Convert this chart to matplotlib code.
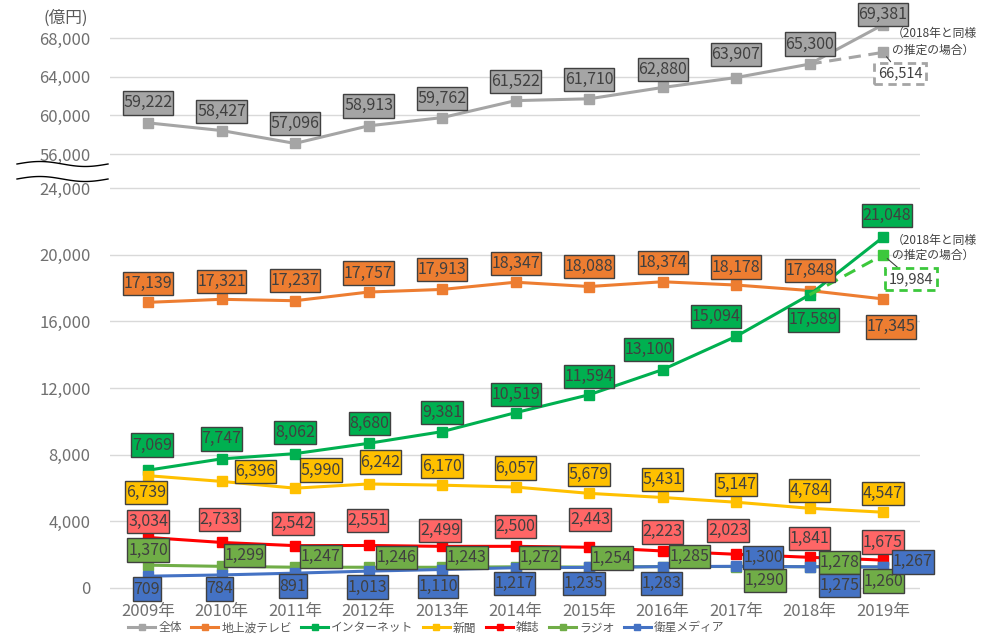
import numpy as np
import matplotlib
matplotlib.use("Agg")
import matplotlib.pyplot as plt
from matplotlib.lines import Line2D
from matplotlib.path import Path
from functools import partial

plt.rcParams['font.family'] = ['Noto Sans CJK JP', 'DejaVu Sans']

# ---------------- data ----------------
years = ['2009年', '2010年', '2011年', '2012年', '2013年', '2014年',
         '2015年', '2016年', '2017年', '2018年', '2019年']
total = [59222, 58427, 57096, 58913, 59762, 61522, 61710, 62880, 63907, 65300, 69381]
terrestrial_tv = [17139, 17321, 17237, 17757, 17913, 18347, 18088, 18374, 18178, 17848, 17345]
internet = [7069, 7747, 8062, 8680, 9381, 10519, 11594, 13100, 15094, 17589, 21048]
newspaper = [6739, 6396, 5990, 6242, 6170, 6057, 5679, 5431, 5147, 4784, 4547]
magazine = [3034, 2733, 2542, 2551, 2499, 2500, 2443, 2223, 2023, 1841, 1675]
radio = [1370, 1299, 1247, 1246, 1243, 1272, 1254, 1285, 1290, 1278, 1260]
satellite = [709, 784, 891, 1013, 1110, 1217, 1235, 1283, 1300, 1275, 1267]
total_est_2019 = 66514
internet_est_2019 = 19984
series_names = ['全体', '地上波テレビ', 'インターネット', '新聞', '雑誌', 'ラジオ', '衛星メディア']
est_note = ['（2018年と同様', 'の推定の場合）']
yticks_low = [0, 4000, 8000, 12000, 16000, 20000, 24000]
yticks_high = [56000, 60000, 64000, 68000]
unit_label = '(億円)'

# ---------------- styles ----------------
colors = ['#A5A5A5', '#ED7D31', '#00B050', '#FFC000', '#FF0000', '#70AD47', '#4472C4']
label_fills = ['#A5A5A5', '#ED7D31', '#00B050', '#FFC000', '#FF6666', '#70AD47', '#4472C4']
est_green = '#3CC83C'

# label offsets (pixels; +x right, +y down as measured on screen)
offsets = [
    [(0, -20), (0, -19), (0, -20), (0, -20), (0, -19), (0, -19), (0, -19), (0, -18), (0, -23), (0, -20), (0, -10)],
    [(0, -19), (0, -18), (0, -20), (0, -19), (0, -20), (0, -19), (0, -20), (0, -19), (0, -18), (0, -20), (8, 28)],
    [(4, -25), (0, -20), (0, -21), (1, -20), (0, -19), (0, -18), (0, -18), (-14, -20), (-20, -20), (4, 25), (4, -22)],
    [(-2, 17), (34, -10), (26, -18), (12, -22), (0, -19), (0, -19), (0, -19), (0, -18), (0, -18), (0, -18), (0, -19)],
    [(0, -16), (-2, -23), (-2, -22), (-1, -25), (-2, -16), (0, -20), (1, -28), (0, -19), (-8, -24), (0, -19), (0, -18)],
    [(0, -15), (23, -11), (26, -11), (28, -10), (25, -10), (24, -9), (23, -9), (27, -10), (29, 14), (30, -4), (0, 14)],
    [(-1, 13), (-2, 14), (-2, 13), (-1, 16), (-4, 17), (-1, 16), (-5, 16), (-1, 17), (27, -9), (30, 19), (30, -5)],
]


def rect_box(x0, y0, width, height, mutation_size, padx=0.05, pady=0.2):
    px = padx * mutation_size
    py = pady * mutation_size
    verts = [(x0 - px, y0 - py), (x0 + width + px, y0 - py),
             (x0 + width + px, y0 + height + py), (x0 - px, y0 + height + py),
             (x0 - px, y0 - py)]
    return Path(verts, [Path.MOVETO, Path.LINETO, Path.LINETO, Path.LINETO, Path.CLOSEPOLY])


# ---------------- broken-axis scale ----------------
def fwd(v):
    v = np.asarray(v, dtype=float)
    return np.where(v <= 24000, v / 60.0,
                    np.where(v >= 56000, 434 + (v - 56000) * 116.0 / 12000.0,
                             400 + (v - 24000) * 34.0 / 32000.0))


def inv(f):
    f = np.asarray(f, dtype=float)
    return np.where(f <= 400, f * 60.0,
                    np.where(f >= 434, 56000 + (f - 434) * 12000.0 / 116.0,
                             24000 + (f - 400) * 32000.0 / 34.0))


W, H = 982, 635
fig = plt.figure(figsize=(W / 100, H / 100), dpi=100)
top_px, bot_px = 5, 598
ax = fig.add_axes([110 / W, (H - bot_px) / H, 810 / W, (bot_px - top_px) / H])
ax.set_yscale('function', functions=(fwd, inv))
ax.set_ylim(float(inv(588 - bot_px)), float(inv(588 - top_px)))
x = np.arange(len(years))
ax.set_xlim(-0.517, 10.503)

ax.set_yticks(yticks_low + yticks_high)
ax.set_yticklabels([f'{t:,}' for t in yticks_low + yticks_high])
ax.set_xticks(x)
ax.set_xticklabels(years)
ax.tick_params(axis='both', length=0, labelsize=12, labelcolor='#707070')
ax.tick_params(axis='y', pad=14)
ax.tick_params(axis='x', pad=3.5)
ax.grid(axis='y', color='#D9D9D9', lw=1)
ax.set_axisbelow(True)
for s in ax.spines.values():
    s.set_visible(False)

all_series = [total, terrestrial_tv, internet, newspaper, magazine, radio, satellite]
handles = []
for i, (vals, c) in enumerate(zip(all_series, colors)):
    ax.plot(x, vals, color=c, lw=2.2, marker='s', ms=7, zorder=3 + i)
    handles.append(Line2D([], [], color=c, lw=2.2, marker='s', ms=5))

# estimate dashed lines
ax.plot([x[-2], x[-1]], [total[-2], total_est_2019], color=colors[0], lw=2.2, ls=(0, (4, 2.5)), zorder=3)
ax.plot([x[-1]], [total_est_2019], color=colors[0], marker='s', ms=7, zorder=3)
ax.plot([x[-2], x[-1]], [internet[-2], internet_est_2019], color=est_green, lw=2.2, ls=(0, (4, 2.5)), zorder=5)
ax.plot([x[-1]], [internet_est_2019], color=est_green, marker='s', ms=7, zorder=5)

box_style = partial(rect_box, padx=0.04, pady=0.2)

# data labels
for vals, fill, offs in zip(all_series, label_fills, offsets):
    for xi, v, (dx, dy) in zip(x, vals, offs):
        ax.annotate(f'{v:,}', (xi, v), xytext=(dx, -dy), textcoords='offset pixels',
                    ha='center', va='center', fontsize=11.5, color='#404040',
                    bbox=dict(boxstyle=box_style, fc=fill, ec='#404040', lw=1),
                    zorder=20, annotation_clip=False)

# estimate labels
for v, ec, (dx, dy), rows in [(total_est_2019, colors[0], (17, 21), (19, 2)),
                             (internet_est_2019, est_green, (28, 24), (15, 0))]:
    ax.annotate(f'{v:,}', (x[-1], v), xytext=(dx, -dy), textcoords='offset pixels',
                ha='center', va='center', fontsize=10.5, color='#404040',
                bbox=dict(boxstyle='square,pad=0.25', fc='white', ec=ec, lw=2, ls=(0, (3, 2))),
                arrowprops=dict(arrowstyle='-', color='#404040', lw=0.8, shrinkA=0, shrinkB=4),
                zorder=20, annotation_clip=False)
    for r, txt in zip(rows, est_note):
        ax.annotate(txt, (x[-1], v), xytext=(9, r), textcoords='offset pixels',
                    ha='left', va='center', fontsize=8.5, color='#404040',
                    zorder=21, annotation_clip=False)

# unit label
fig.text(66 / W, 1 - 18 / H, unit_label, ha='center', va='center', fontsize=12, color='#595959')

# break marks
t = np.linspace(0, 1, 60)
xs = 17 + 91 * t
for y0 in (164, 179):
    ys = y0 - 2.5 * np.sin(2 * np.pi * t)
    fig.add_artist(Line2D(xs / W, 1 - ys / H, color='black', lw=1, transform=fig.transFigure))

fig.legend(handles, series_names, loc='center left', bbox_to_anchor=(128 / W, 1 - 628 / H),
           ncol=7, frameon=False, fontsize=8.5, labelcolor='#595959', handlelength=2.3,
           handletextpad=0.25, columnspacing=0.8, borderaxespad=0, borderpad=0)

fig.savefig('out.png', dpi=100)
